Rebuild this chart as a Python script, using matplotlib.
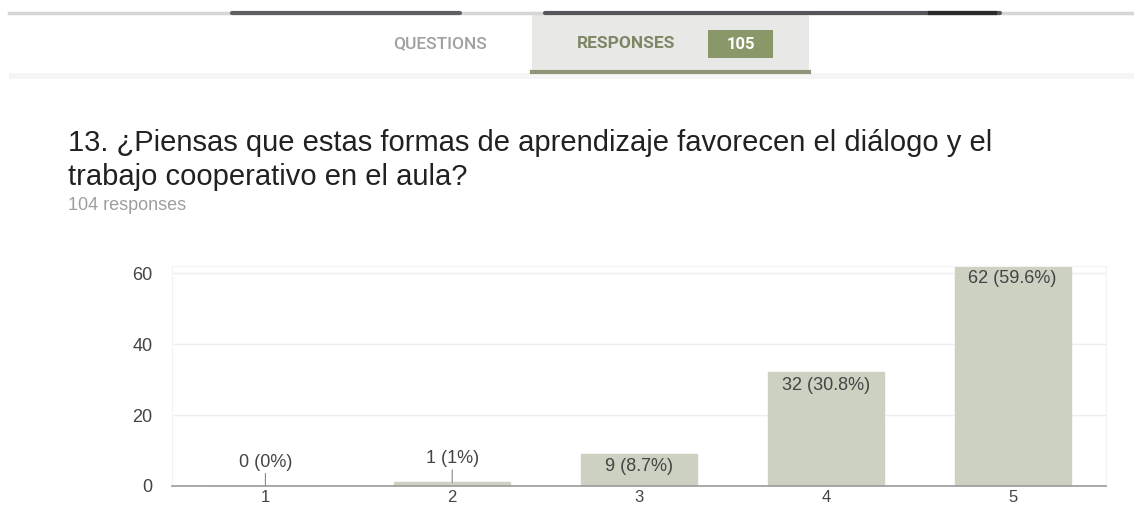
import matplotlib.pyplot as plt
from matplotlib.patches import Rectangle

# data
categories = ["1", "2", "3", "4", "5"]
counts = [0, 1, 9, 32, 62]
labels = ["0 (0%)", "1 (1%)", "9 (8.7%)", "32 (30.8%)", "62 (59.6%)"]
yticks = [0, 20, 40, 60]

title = ("13. ¿Piensas que estas formas de aprendizaje favorecen el diálogo y el\n"
         "trabajo cooperativo en el aula?")
subtitle = "104 responses"
n_responses = "105"

W, H = 1134, 509
fig = plt.figure(figsize=(W / 100, H / 100), dpi=100)
fig.patch.set_facecolor("white")


def px(x, y):
    # pixel coords (top-left origin) -> figure fraction
    return x / W, 1 - y / H


# header strip: top rule + tab
bg = fig.add_axes([0, 0, 1, 1], zorder=0)
bg.set_xlim(0, W)
bg.set_ylim(H, 0)
bg.axis("off")
bg.plot([9, W], [12.5, 12.5], color="#d6d6d6", lw=2.5)
bg.plot([232, 460], [12.5, 12.5], color="#5f5f63", lw=3, solid_capstyle="round")
bg.plot([545, 1000], [12.5, 12.5], color="#55565c", lw=3, solid_capstyle="round")
bg.plot([930, 995], [12.5, 12.5], color="#2a2a2a", lw=3)
bg.add_patch(Rectangle((532, 14), 277, 58, color="#e8e8e6", lw=0))
bg.plot([532, 809], [72, 72], color="#8d9676", lw=3)
bg.add_patch(Rectangle((9, 73), W, 6, color="#f5f5f5", lw=0))
bg.add_patch(Rectangle((708, 30), 65, 28, color="#8a9869", lw=0))

fig.text(*px(440, 44), "QUESTIONS", ha="center", va="center",
         fontsize=12.5, color="#a0a0a0", family="Roboto", weight="medium")
fig.text(*px(626, 44), "RESPONSES", ha="center", va="center",
         fontsize=12.5, color="#7d8766", family="Roboto", weight="bold")
fig.text(*px(740.5, 44.5), n_responses, ha="center", va="center",
         fontsize=12, color="white", family="Roboto", weight="bold")

# question title
fig.text(*px(68, 160), title, ha="left", va="center", fontsize=21,
         color="#212121", family="Liberation Sans", linespacing=1.3)
fig.text(*px(68, 206), subtitle, ha="left", va="center", fontsize=13,
         color="#9e9e9e", family="Liberation Sans")

# chart
left, right, top, bottom = 172, 1106, 266, 486
ax = fig.add_axes([left / W, 1 - bottom / H, (right - left) / W, (bottom - top) / H])
x = list(range(1, len(categories) + 1))
bars = ax.bar(x, counts, width=0.62, color="#ccd1c2", edgecolor="#ccd1c2",
              lw=1, zorder=2)
ax.set_xlim(0.5, 5.5)
ax.set_ylim(0, 62)
ax.set_yticks(yticks)
ax.set_xticks(x)
ax.set_xticklabels(categories)
ax.grid(axis="y", color="#eeeeee", lw=1, zorder=0)
for s in ["top", "right", "left"]:
    ax.spines[s].set_color("#f3f3f3")
ax.spines["bottom"].set_color("#9a9a9a")
ax.spines["bottom"].set_linewidth(1.2)
ax.spines["bottom"].set_zorder(3)
ax.tick_params(length=0, labelsize=13, labelcolor="#444444")
ax.tick_params(axis="y", pad=14)
ax.tick_params(axis="x", pad=3, labelsize=12)
for t in ax.get_xticklabels() + ax.get_yticklabels():
    t.set_family("Liberation Sans")

for b, v, lab in zip(bars, counts, labels):
    cx = b.get_x() + b.get_width() / 2
    if v < 5:
        ax.annotate(lab, xy=(cx, v), xytext=(0, 11), textcoords="offset points",
                    ha="center", va="bottom", fontsize=13, color="#444444",
                    family="Liberation Sans",
                    arrowprops=dict(arrowstyle="-", color="#888888", lw=0.8,
                                    shrinkA=0, shrinkB=0))
    else:
        ax.annotate(lab, xy=(cx, v), xytext=(0, -3), textcoords="offset points",
                    ha="center", va="top", fontsize=13, color="#444444",
                    family="Liberation Sans")

fig.savefig("out.png", dpi=100)
